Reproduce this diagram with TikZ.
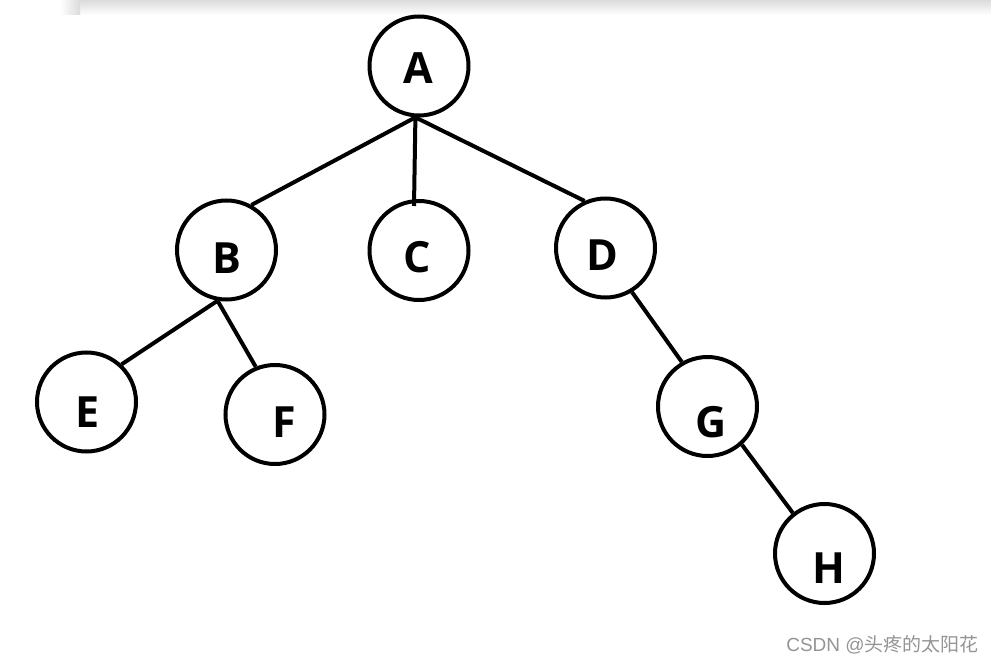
\documentclass[tikz,border=0pt]{standalone}
\usepackage{fontspec}
\setmainfont{Open Sans}
\newfontfamily\cjkfont{Noto Sans CJK SC}
\newfontfamily\arialfont{Liberation Sans}
\begin{document}
\begin{tikzpicture}[x=1pt,y=-1pt,
  treenode/.style={circle,draw=black,line width=4pt,minimum size=99pt,inner sep=0pt},
  letter/.style={font=\fontsize{43}{43}\selectfont\bfseries,inner sep=0pt},
  edge/.style={draw=black,line width=4pt}]
\useasboundingbox (0,0) rectangle (991,663);
% screenshot shadow at the top
\shade[top color=black!14,bottom color=white] (80,0) rectangle (991,15);
\shade[left color=white,right color=black!14] (60,0) rectangle (80,15);
% circles
\node[treenode] (A) at (419,66) {};
\node[treenode] (B) at (226.5,250) {};
\node[treenode] (C) at (419,250.5) {};
\node[treenode] (D) at (605.5,248) {};
\node[treenode] (E) at (86.5,402) {};
\node[treenode] (F) at (275,414.5) {};
\node[treenode] (G) at (707.5,406.5) {};
\node[treenode] (H) at (824.5,553.5) {};
% letters
\node[letter] (lA) at (418,68) {A};
\node[letter] (lB) at (226.5,258) {B};
\node[letter] (lC) at (417,257) {C};
\node[letter] (lD) at (602,255.5) {D};
\node[letter] (lE) at (88,412.5) {E};
\node[letter] (lF) at (284,422.5) {F};
\node[letter] (lG) at (711,422) {G};
\node[letter] (lH) at (829,568.5) {H};
% connectors
\coordinate (cTop) at ([shift={(-5,7)}]C.north);
\draw[edge] (A.-94) -- (B.61);
\draw[edge] (A.-94) -- (cTop);
\draw[edge] (A.-94) -- (D.114);
\draw[edge] (B.-100) -- (E.47);
\draw[edge] (B.-100) -- (F.112);
\draw[edge] (D.-59) -- (G.120);
\draw[edge] (G.-48) -- (H.128);
% watermark
\node[text=black!42,inner sep=0pt] (wm) at (882.5,645) {\arialfont\fontsize{19}{19}\selectfont CSDN @\cjkfont 头疼的太阳花};
\end{tikzpicture}
\end{document}
